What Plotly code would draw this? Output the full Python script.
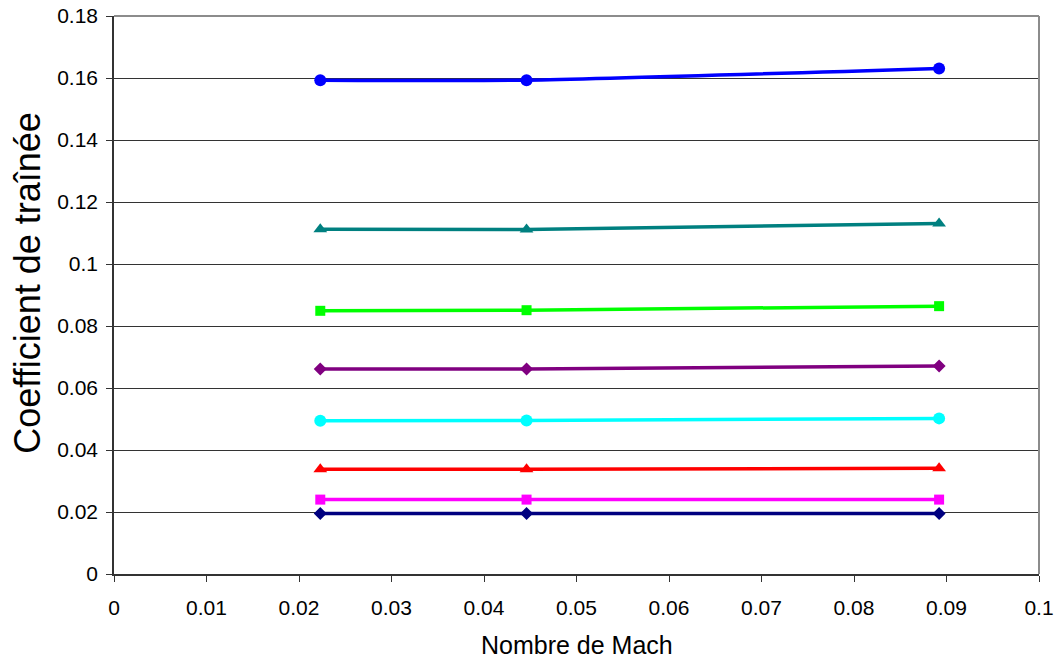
import plotly.graph_objects as go

# Mach numbers tested
mach = [0.0223, 0.0446, 0.0892]

# Drag coefficient series (one per configuration)
cd_blue = [0.1593, 0.1593, 0.1631]
cd_teal = [0.1112, 0.1111, 0.1131]
cd_green = [0.0849, 0.0851, 0.0864]
cd_purple = [0.0661, 0.0661, 0.0671]
cd_cyan = [0.0494, 0.0495, 0.0502]
cd_red = [0.0338, 0.0338, 0.0341]
cd_magenta = [0.0240, 0.0240, 0.0240]
cd_navy = [0.0195, 0.0195, 0.0195]

x_ticks = [0, 0.01, 0.02, 0.03, 0.04, 0.05, 0.06, 0.07, 0.08, 0.09, 0.1]
x_labels = ["0", "0.01", "0.02", "0.03", "0.04", "0.05", "0.06", "0.07", "0.08", "0.09", "0.1"]
y_ticks = [0, 0.02, 0.04, 0.06, 0.08, 0.1, 0.12, 0.14, 0.16, 0.18]
y_labels = ["0", "0.02", "0.04", "0.06", "0.08", "0.1", "0.12", "0.14", "0.16", "0.18"]

series = [
    (cd_navy, "#000080", "diamond", 10),
    (cd_magenta, "#FF00FF", "square", 10),
    (cd_red, "#FF0000", "triangle-up", 12),
    (cd_cyan, "#00FFFF", "circle", 12),
    (cd_purple, "#800080", "diamond", 10),
    (cd_green, "#00FF00", "square", 10),
    (cd_teal, "#008080", "triangle-up", 12),
    (cd_blue, "#0000FF", "circle", 12),
]

fig = go.Figure()
for vals, color, symbol, size in series:
    fig.add_trace(go.Scatter(
        x=mach, y=vals, mode="lines+markers",
        line=dict(color=color, width=3.5, shape="spline", smoothing=0.6),
        marker=dict(color=color, symbol=symbol, size=size, line=dict(width=0)),
        showlegend=False,
    ))

# grey frame on the top and right of the plotting area
fig.add_shape(type="line", xref="x domain", yref="y domain",
              x0=0, x1=1, y0=1, y1=1, line=dict(color="#8c8c8c", width=2))
fig.add_shape(type="line", xref="x domain", yref="y domain",
              x0=1, x1=1, y0=0, y1=1, line=dict(color="#8c8c8c", width=2))

# axis titles
fig.add_annotation(text="Nombre de Mach", xref="paper", yref="paper",
                   x=0.5, y=-0.127, showarrow=False,
                   xanchor="center", yanchor="middle", font=dict(size=25))
fig.add_annotation(text="Coefficient de traînée", xref="paper", yref="paper",
                   x=-0.093, y=0.522, showarrow=False, textangle=-90,
                   xanchor="center", yanchor="middle", font=dict(size=36))

font_family = "Liberation Sans, Arial, sans-serif"
fig.update_layout(
    width=1056, height=659,
    margin=dict(l=114, r=17, t=16, b=85, autoexpand=False),
    paper_bgcolor="white", plot_bgcolor="white",
    font=dict(family=font_family, color="black", size=21),
    xaxis=dict(
        range=[0, 0.1], tickvals=x_ticks, ticktext=x_labels,
        showgrid=False, zeroline=False, automargin=False,
        showline=True, linecolor="#333", linewidth=1.5,
        ticks="outside", ticklen=6, tickcolor="#333",
        tickfont=dict(size=21), ticklabelstandoff=8,
    ),
    yaxis=dict(
        range=[0, 0.18], tickvals=y_ticks, ticktext=y_labels,
        showgrid=True, gridcolor="#333", gridwidth=1,
        zeroline=False, automargin=False,
        showline=True, linecolor="#333", linewidth=1.5,
        ticks="outside", ticklen=6, tickcolor="#333",
        tickfont=dict(size=21), ticklabelstandoff=4,
    ),
)

fig.write_html("out.html")
